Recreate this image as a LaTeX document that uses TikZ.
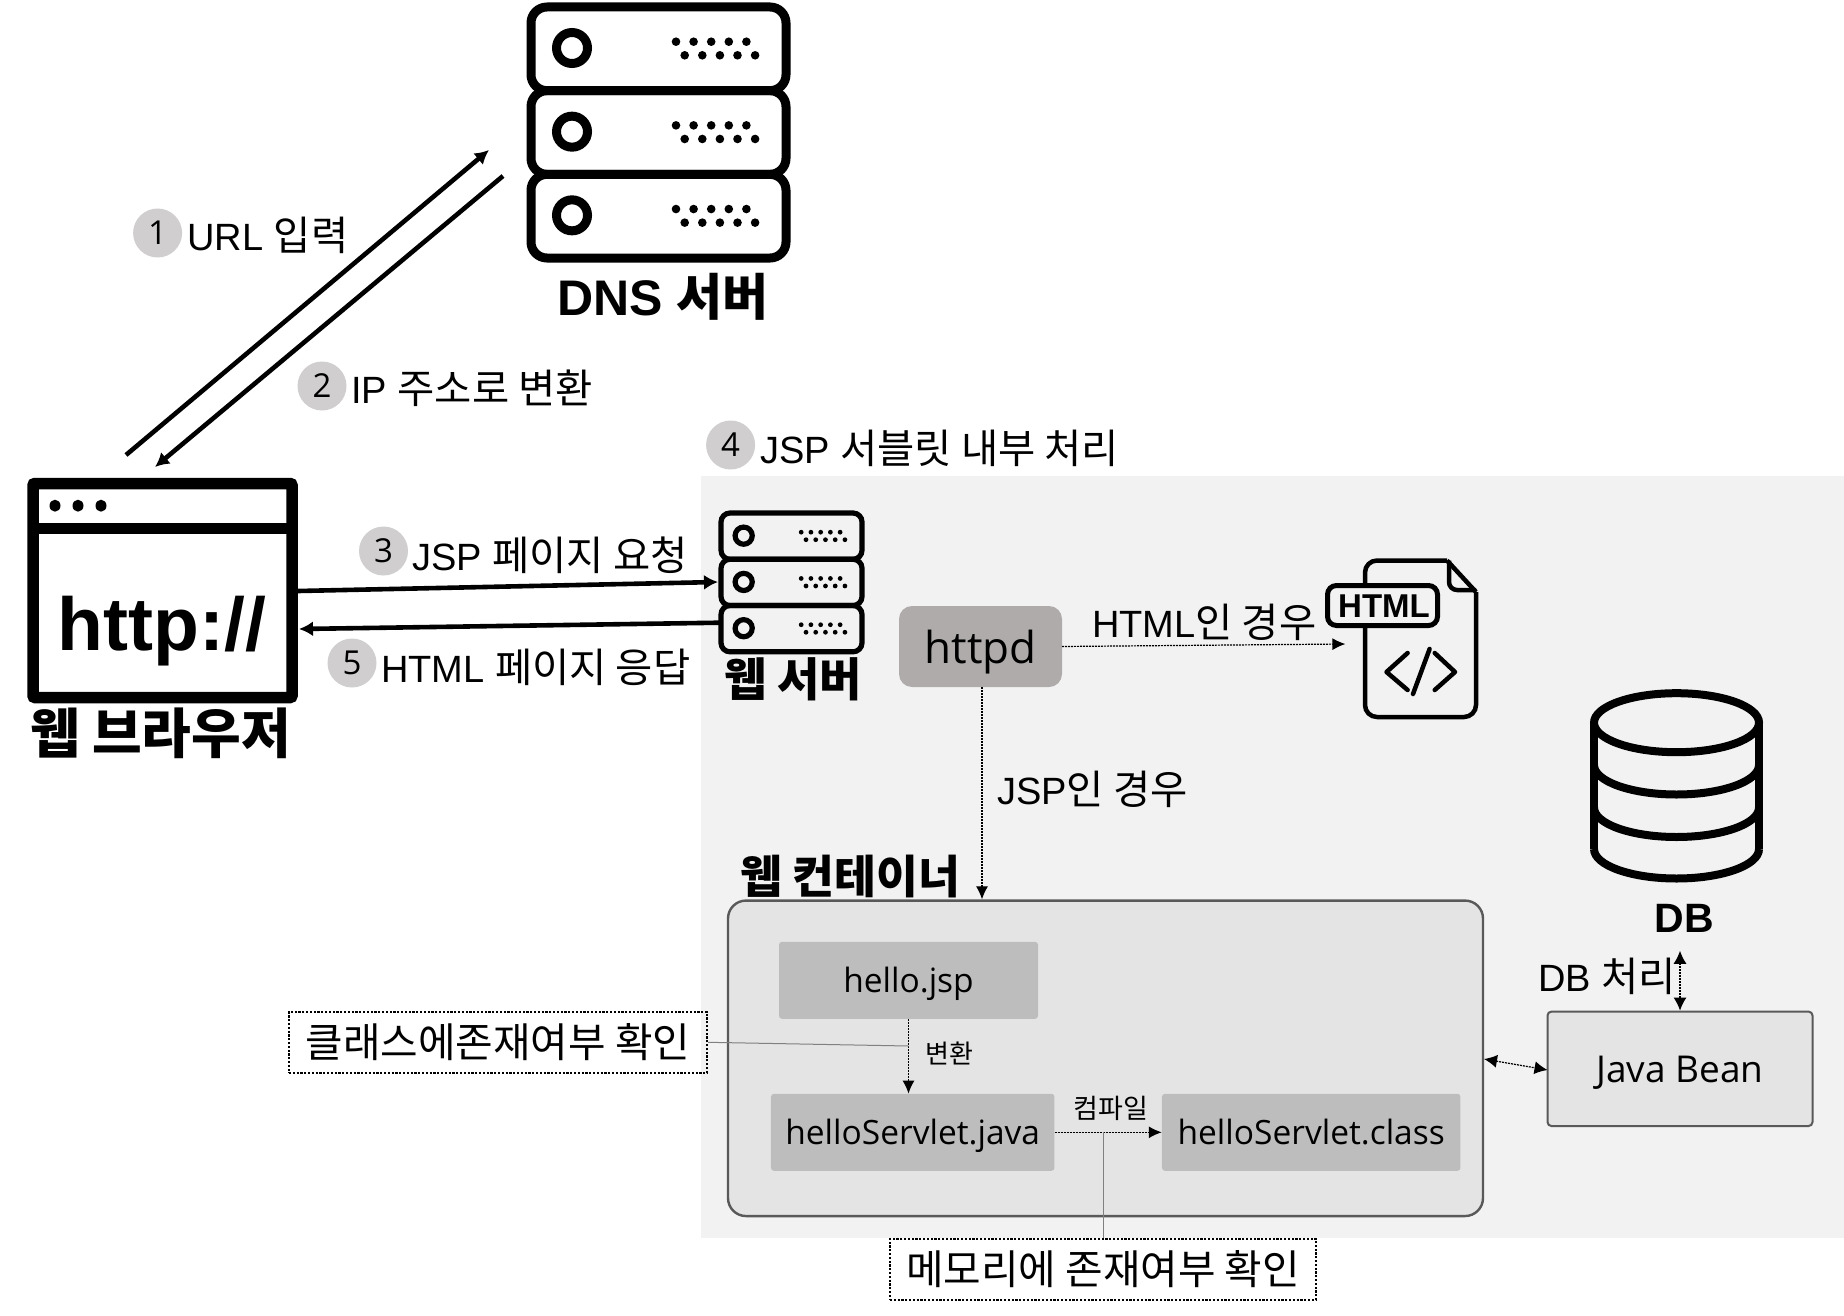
\documentclass[tikz,border=0pt]{standalone}
\usepackage{fontspec}
\setmainfont{Liberation Sans}
\newfontfamily\kr{Noto Sans CJK KR}
\newfontfamily\krw[Scale=1.065]{Noto Sans CJK KR}
\newfontfamily\ls{Liberation Sans}
\newfontfamily\os{Open Sans}
\usetikzlibrary{arrows.meta,shapes.geometric}
\newcommand{\fs}[1]{\fontsize{#1}{#1}\selectfont}
\definecolor{panelc}{HTML}{F2F2F2}
\definecolor{contc}{HTML}{E4E4E4}
\definecolor{boxc}{HTML}{BDBDBD}
\definecolor{httpdc}{HTML}{AFABAB}
\definecolor{edgec}{HTML}{595959}
\definecolor{badgec}{HTML}{D0CECE}
\tikzset{
  lbl/.style={anchor=base west,inner sep=0pt,font=\fs{#1}},
  lbl/.default=38,
  badge/.style={circle,fill=badgec,minimum size=49pt,inner sep=0pt,font=\fs{33}\os},
  filebox/.style={fill=boxc,rounded corners=3pt,inner sep=0pt,minimum height=77pt,text=black,text height=33pt,text depth=8pt,font=\fs{33.5}\os},
  heavy/.style={line width=4.6pt,-{Latex[length=14pt,width=15pt]}},
  thindot/.style={line width=1.2pt,dash pattern=on 2pt off 1pt,-{Latex[length=13pt,width=12pt]}},
  thindotb/.style={line width=1.2pt,dash pattern=on 2pt off 1pt,{Latex[length=13pt,width=13pt]}-{Latex[length=13pt,width=13pt]}},
  note/.style={draw=black,line width=2.2pt,dash pattern=on 2.2pt off 1.6pt,inner sep=0pt,font=\fs{40.8}\kr},
  guide/.style={draw=gray,line width=1pt},
  title/.style={inner sep=0pt,font=\bfseries\kr},
}
% #1 left x, #2 top y, #3 scale, #4 line width, #5 corner radius
\newcommand{\serverstack}[5]{%
  \begin{scope}[shift={(#1,#2)},scale=#3]
    \foreach \u in {0,1,2}{
      \draw[line width=#4pt,rounded corners=#5pt] (0,{\u*83.67}) rectangle (255,{(\u+1)*83.67});
      \draw[line width=#4pt] (41,{41+\u*83.67}) circle[radius=15.5];
      \foreach \k in {0,...,4}{
        \fill ({145+\k*17.6},{34.7+\u*83.67}) circle[radius=4.3];
        \fill ({153.7+\k*17.6},{48.3+\u*83.67}) circle[radius=4.3];
      }
    }
  \end{scope}}
\begin{document}
\begin{tikzpicture}[x=1pt,y=-1pt]
\useasboundingbox (0,0) rectangle (1844,1316);
% panel
\fill[panelc] (701,476) rectangle (1844,1238);
% DNS server
\serverstack{531}{7}{1}{9}{16}
\node[title,font=\bfseries\fs{50}] (dnslabel) at (663,297) {\ls DNS {\kr 서버}};
% browser
\draw[line width=11.5pt,rounded corners=2pt] (33,483.5) rectangle (292,697.5);
\draw[line width=11.5pt] (33,528.5) -- (292,528.5);
\foreach \xx in {55,78,101}{\fill (\xx,505.7) ellipse[x radius=5.5,y radius=6];}
\node[inner sep=0pt,font=\bfseries\fs{75}\ls] (http) at (162,631) {http://};
\node[title,font=\bfseries\fs{54}] (browserlabel) at (160.5,733) {\kr 웹 브라우저};
\coordinate (browserE3) at (298,591);
\coordinate (browserE5) at (299,629);
\coordinate (brT1) at (126,455);
\coordinate (brT2) at (155,467);
\coordinate (dnsW1) at (489,150);
\coordinate (dnsW2) at (503,176);
\coordinate (webW3) at (718,582);
\coordinate (webW5) at (720,622.7);
\draw[heavy] (brT1) -- (dnsW1);
\draw[heavy] (dnsW2) -- (brT2);
\draw[heavy] (browserE3) -- (webW3);
\draw[heavy] (webW5) -- (browserE5);
% badges and labels
\node[badge] (b1) at (157.6,233) {1};
\node[badge] (b2) at (322,386) {2};
\node[badge] (b3) at (383.5,551) {3};
\node[badge] (b4) at (730.6,445) {4};
\node[badge] (b5) at (352,663) {5};
\node[lbl] (t1) at (187,250.5) {\ls URL {\krw 입력}};
\node[lbl] (t2) at (351,403.5) {\ls IP {\krw 주소로 변환}};
\node[lbl] (t3) at (412,570.7) {\ls JSP {\krw 페이지 요청}};
\node[lbl] (t4) at (760,463) {\ls JSP {\krw 서블릿 내부 처리}};
\node[lbl] (t5) at (381,682.7) {\ls HTML {\krw 페이지 응답}};
% web server
\serverstack{721}{513}{0.553}{5.2}{9}
\node[title,font=\bfseries\fs{46}] (weblabel) at (793.5,679) {\kr 웹 서버};
% httpd
\node[fill=httpdc,rounded corners=13pt,minimum width=163pt,minimum height=81pt,inner sep=0pt,text height=41pt,text depth=8pt,font=\fs{44}\os] (httpd) at (980.5,646.5) {httpd};
% HTML file icon
\begin{scope}[line width=4.5pt]
  \draw[rounded corners=12pt,line join=round] (1365,628) -- (1365,560.5) -- (1447,560.5);
  \draw[line join=round] (1447,560.5) -- (1476,592);
  \draw[rounded corners=12pt] (1476,592) -- (1476,717) -- (1365,717) -- (1365,628);
  \draw[rounded corners=8pt] (1449,560.5) -- (1449,590) -- (1476,590);
  \draw[fill=panelc,line width=5pt,rounded corners=9pt] (1327.5,585.5) rectangle (1437.5,625.5);
  \draw[line cap=round,line join=round] (1407.6,653) -- (1386.5,672) -- (1407.6,690);
  \draw[line cap=round,line join=round] (1434.7,653) -- (1455,672) -- (1434.7,690);
  \draw[line cap=round] (1429.6,649) -- (1413,694);
\end{scope}
\node[inner sep=0pt,font=\bfseries\fs{33}\ls] (htmltag) at (1384,606) {HTML};
\coordinate (htmlW) at (1345.4,644);
\draw[thindot] (httpd.east) -- (htmlW);
\node[lbl] (t6) at (1092,637) {\ls HTML{\krw 인 경우}};
% container
\node[draw=edgec,line width=2.4pt,fill=contc,rounded corners=18pt,minimum width=755pt,minimum height=315.5pt,inner sep=0pt] (cont) at (1105.5,1058.3) {};
\draw[thindot] ([xshift=1.5pt]httpd.south) -- ([xshift=1.5pt]httpd.south |- cont.north);
\node[lbl] (t7) at (997,804) {\ls JSP{\krw 인 경우}};
\node[title,font=\bfseries\fs{45.5}] (contlabel) at (850,876) {\kr 웹 컨테이너};
% files
\node[filebox,minimum width=259pt] (jsp) at (908.5,980.3) {hello.jsp};
\node[filebox,minimum width=283.5pt] (java) at (912.7,1132.3) {helloServlet.java};
\node[filebox,minimum width=298.5pt] (class) at (1311.2,1132.3) {helloServlet.class};
\draw[thindot] (jsp.south) -- (jsp.south |- java.north);
\draw[thindot] (java.east) -- (class.west);
\node[inner sep=0pt,font=\fs{26}\kr] (conv) at (949,1053.5) {변환};
\node[inner sep=0pt,font=\fs{27}\kr] (comp) at (1111,1108) {컴파일};
% notes
\node[note,minimum width=418pt,minimum height=61pt] (classnote) at (498,1042.3) {클래스에존재여부 확인};
\node[note,minimum width=426pt,minimum height=61pt] (memnote) at (1103,1269.3) {메모리에 존재여부 확인};
\coordinate (classjoin) at (908.5,1046);
\draw[guide] (classnote.east) -- (classjoin);
\draw[guide] (memnote.north) -- (memnote.north |- java.east);
% DB
\begin{scope}[line width=8pt]
  \draw (1676.5,722.7) ellipse[x radius=82.5,y radius=29.5];
  \draw (1594,722.7) -- (1594,849);
  \draw (1759,722.7) -- (1759,849);
  \draw (1594,765) arc[start angle=180,end angle=360,x radius=82.5,y radius=-29.5];
  \draw (1594,807.5) arc[start angle=180,end angle=360,x radius=82.5,y radius=-29.5];
  \draw (1594,849) arc[start angle=180,end angle=360,x radius=82.5,y radius=-29.5];
\end{scope}
\node[inner sep=0pt,font=\bfseries\fs{41}\ls] (dblabel) at (1684,918) {DB};
\node[lbl] (t8) at (1538,991) {\ls DB {\krw 처리}};
\node[draw=edgec,line width=2pt,fill=contc,rounded corners=4pt,minimum width=265pt,minimum height=114.5pt,inner sep=0pt,text height=36pt,text depth=8pt,font=\fs{37}\os] (bean) at (1680,1068.8) {Java Bean};
\coordinate (dbS) at (1680,950.8);
\draw[thindotb] (dbS) -- (bean.north);
\coordinate (contE) at (1484,1059);
\coordinate (beanW) at (1547.5,1070);
\draw[thindotb] (contE) -- (beanW);
\end{tikzpicture}
\end{document}
